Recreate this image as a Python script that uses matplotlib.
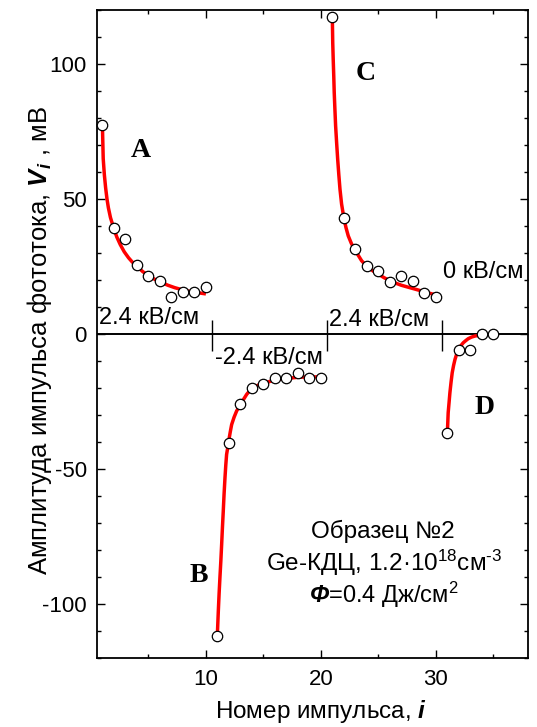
import matplotlib
matplotlib.use('Agg')
import matplotlib.pyplot as plt
from matplotlib.ticker import MultipleLocator

plt.rcParams['font.family'] = ['Liberation Sans', 'DejaVu Sans']
plt.rcParams['mathtext.fontset'] = 'custom'
plt.rcParams['mathtext.rm'] = 'Liberation Sans'
plt.rcParams['mathtext.it'] = 'Liberation Sans:italic'
plt.rcParams['mathtext.bf'] = 'Liberation Sans:bold:italic'
plt.rcParams['axes.unicode_minus'] = False

# measured points
a_x = [1, 2, 3, 4, 5, 6, 7, 8, 9, 10]
a_y = [77.5, 39.5, 35.3, 25.6, 21.5, 19.5, 13.7, 15.6, 15.6, 17.5]
b_x = [11, 12, 13, 14, 15, 16, 17, 18, 19, 20]
b_y = [-112, -40.3, -26, -20, -18.3, -16.2, -16.2, -14.3, -16.2, -16.2]
c_x = [21, 22, 23, 24, 25, 26, 27, 28, 29, 30]
c_y = [117.5, 43, 31.5, 25.4, 23.5, 19.4, 21.6, 19.7, 15.4, 13.6]
d_x = [31, 32, 33, 34, 35]
d_y = [-36.5, -6, -6, 0, 0]

# fitted curves
fa_x = [1.0, 1.07, 1.17, 1.28, 1.4, 1.52, 1.7, 1.97, 2.25, 2.55, 2.9, 3.27, 3.6, 4.0, 4.5, 5.0, 5.6, 6.15, 6.7, 7.3, 7.9, 8.5, 9.2, 10.0]
fa_y = [77.5, 65, 59, 54.2, 50, 46.8, 43.2, 39.4, 36, 33.2, 30.5, 28.3, 26.7, 25.1, 23.2, 21.6, 20.2, 19.1, 18.1, 17.2, 16.5, 15.9, 15.4, 14.9]
fb_x = [11.0, 11.08, 11.15, 11.22, 11.3, 11.37, 11.44, 11.51, 11.58, 11.66, 11.73, 11.8, 11.9, 12.0, 12.12, 12.24, 12.45, 12.67, 13.0, 13.3, 13.55, 14.0, 14.5, 15.0, 15.5, 16.0, 16.5, 17.0, 18.0, 19.0, 20.0]
fb_y = [-111, -102.6, -96, -90.2, -84, -77.9, -71.5, -65.6, -59.3, -53.2, -48.5, -44.6, -42, -39.2, -36.2, -33.5, -30.8, -28.5, -26.0, -24.0, -22.3, -20.0, -19.0, -18.3, -17.6, -17.0, -16.7, -16.4, -16.0, -15.8, -15.9]
fc_x = [21.0, 21.03, 21.07, 21.12, 21.16, 21.22, 21.28, 21.37, 21.46, 21.56, 21.66, 21.8, 22.0, 22.18, 22.38, 22.65, 22.96, 23.25, 23.54, 24.0, 24.5, 25.0, 25.5, 26.0, 26.5, 27.0, 28.0, 29.0, 30.0]
fc_y = [116, 108, 102, 95.5, 89.5, 83.2, 77.2, 70.8, 64.8, 59, 53.7, 48.2, 43.0, 39.5, 36.4, 33.6, 31.3, 29.2, 27.2, 25.1, 23.5, 22.2, 20.9, 19.8, 18.9, 18.1, 16.9, 15.7, 14.5]
fd_x = [31.0, 31.07, 31.15, 31.22, 31.32, 31.42, 31.54, 31.66, 31.8, 31.94, 32.15, 32.38, 32.6, 32.81, 33.1, 33.4, 33.83]
fd_y = [-36.5, -29.1, -25.2, -21.7, -17.8, -14.3, -11.6, -9.4, -7.5, -5.9, -4.4, -3.2, -2.4, -1.7, -1.1, -0.7, -0.4]

sep_x = [10.5, 20.5, 30.5]

fig = plt.figure(figsize=(5.37, 7.27), dpi=100)
ax = fig.add_axes([0.180, 0.0949, 0.803, 0.891])

ax.axhline(0, color='black', lw=1.4, zorder=1)
ax.vlines(sep_x, -6.3, 5.2, color='black', lw=1.0, zorder=1)

for fx, fy in [(fa_x, fa_y), (fb_x, fb_y), (fc_x, fc_y), (fd_x, fd_y)]:
    ax.plot(fx, fy, color='red', lw=2.5, solid_capstyle='butt', zorder=2)

for px, py in [(a_x, a_y), (b_x, b_y), (c_x, c_y), (d_x, d_y)]:
    ax.plot(px, py, 'o', ms=7.5, mfc='white', mec='black', mew=0.9, zorder=3, clip_on=False)

ax.set_xlim(0.5, 38)
ax.set_ylim(-120, 120)
ax.xaxis.set_major_locator(MultipleLocator(10))
ax.xaxis.set_minor_locator(MultipleLocator(5))
ax.yaxis.set_major_locator(MultipleLocator(50))
ax.yaxis.set_minor_locator(MultipleLocator(10))
ax.tick_params(which='both', direction='in', top=True, right=True, width=1.0)
ax.tick_params(which='major', length=6, labelsize=16)
ax.tick_params(axis='x', which='major', pad=8)
ax.tick_params(axis='y', which='major', pad=7)
ax.tick_params(which='minor', length=3)
for s in ax.spines.values():
    s.set_linewidth(1.3)

ax.set_xlabel(r'Номер импульса, $\mathbf{i}$', fontsize=17.5)
ax.xaxis.set_label_coords(0.52, -0.062)
ax.set_ylabel(r'Амплитуда импульса фототока, $\mathbf{V}_{\mathbf{i}}$ , мВ', fontsize=18.5)
ax.yaxis.set_label_coords(-0.1, 0.49)

ax.text(5.1, 6.1, '2.4 кВ/см', fontsize=17, ha='center', va='center')
ax.text(15.5, -8.9, '-2.4 кВ/см', fontsize=17, ha='center', va='center')
ax.text(25.07, 5.2, '2.4 кВ/см', fontsize=17, ha='center', va='center')
ax.text(34.1, 23.1, '0 кВ/см', fontsize=17, ha='center', va='center')

for lab, lx, ly in [('A', 4.3, 68.1), ('B', 9.37, -89.6), ('C', 23.9, 96.5), ('D', 34.2, -27.0)]:
    ax.text(lx, ly, lab, family='Liberation Serif', fontweight='bold', fontsize=20, ha='center', va='center')

ax.text(25.4, -73.1, 'Образец №2', fontsize=17.5, ha='center', va='center')
ax.text(25.5, -84.8, 'Ge-КДЦ, 1.2·10$^{18}$см$^{\u20103}$', fontsize=17.5, ha='center', va='center')
ax.text(25.5, -96.8, r'$\mathbf{Φ}$=0.4 Дж/см$^{2}$', fontsize=17, ha='center', va='center')

fig.savefig('out.png', dpi=100)
